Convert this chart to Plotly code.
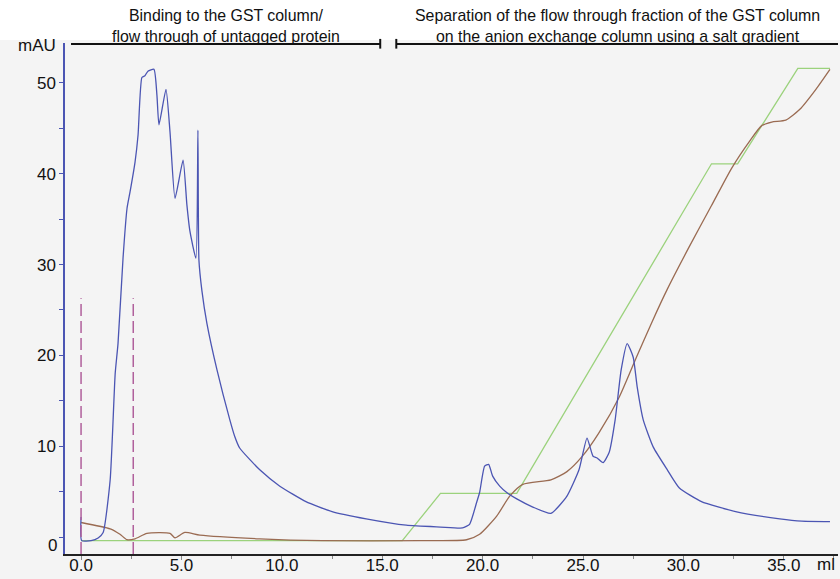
import plotly.graph_objects as go

# ---- data ----
uv_x = [0.0, 0.03, 0.5, 0.85, 1.1, 1.45, 1.7, 1.84, 2.09, 2.29, 2.44, 2.69, 2.84, 3.03, 3.18, 3.33, 3.63,
        3.78, 3.88, 4.23, 4.43, 4.68, 5.08, 5.27, 5.42, 5.72, 5.82, 5.87, 6.02, 6.27, 6.77, 7.41, 7.65, 7.9,
        8.9, 9.9, 11.2, 12.5, 14.2, 16.2, 17.9, 19.0, 19.35, 19.7, 19.85, 20.1, 20.3, 20.5, 20.85, 21.2,
        21.7, 22.5, 23.4, 24.2, 24.8, 25.2, 25.5, 25.7, 26.0, 26.3, 26.6, 26.9, 27.2, 27.5, 27.7, 28.0,
        28.5, 29.2, 29.8, 30.9, 32.6, 34.8, 35.9, 37.3]
uv_y = [2.2, -0.4, -0.4, -0.1, 0.5, 6.3, 18.0, 21.3, 30.7, 36.2, 38.0, 41.3, 44.3, 50.6, 50.8, 51.3, 51.5,
        48.6, 45.4, 49.3, 44.6, 37.3, 41.5, 36.6, 33.7, 30.7, 44.8, 30.5, 27.1, 23.5, 18.4, 12.9, 11.1, 9.8,
        7.4, 5.6, 3.9, 2.8, 2.0, 1.3, 1.1, 1.0, 1.4, 3.8, 4.9, 7.8, 8.0, 6.7, 5.6, 4.9,
        4.2, 3.3, 2.6, 4.5, 7.4, 10.9, 8.9, 8.7, 8.2, 9.3, 12.9, 18.4, 21.3, 19.8, 16.5, 12.9,
        9.9, 7.4, 5.4, 3.9, 2.8, 2.0, 1.75, 1.7]

cond_x = [0.0, 1.45, 1.94, 2.29, 2.69, 3.28, 4.43, 4.68, 5.17, 5.92, 8.9, 12.0, 16.9, 19.2, 19.85, 20.7,
          21.35, 22.0, 23.4, 24.2, 24.97, 25.8, 26.8, 27.66, 28.46, 29.2, 30.3, 31.4, 32.4, 33.3, 33.9,
          34.4, 35.1, 35.8, 36.6, 37.3]
cond_y = [1.6, 0.9, 0.3, -0.3, -0.2, 0.4, 0.4, -0.1, 0.5, 0.2, -0.2, -0.4, -0.4, -0.3, 0.3, 2.3,
          4.5, 5.8, 6.3, 7.2, 8.9, 11.5, 15.4, 19.8, 23.8, 27.3, 32.0, 36.5, 40.6, 43.6, 45.3,
          45.7, 45.9, 47.1, 49.3, 51.5]

grad_x = [0.0, 16.0, 17.9, 21.7, 31.4, 32.7, 35.7, 37.3]
grad_y = [-0.4, -0.4, 4.8, 4.8, 41.1, 41.1, 51.6, 51.6]

marker_x = [0.0, 2.6]          # injection / fraction marks
marker_top = 26.3

x_ticks = [0, 5, 10, 15, 20, 25, 30, 35]
x_tick_text = ["0.0", "5.0", "10.0", "15.0", "20.0", "25.0", "30.0", "35.0"]
y_ticks = [0, 10, 20, 30, 40, 50]
y_tick_text = ["", "10", "20", "30", "40", "50"]   # "0" is drawn slightly lower, as in the original

phase1_text = "Binding to the GST column/<br>flow through of untagged protein"
phase2_text = "Separation of the flow through fraction of the GST column<br>on the anion exchange column using a salt gradient"
phase1_span = [-0.5, 14.9]
phase2_span = [15.7, 37.7]

FONT = "Liberation Sans, Arial, sans-serif"
BLUE = "#4b55b3"
BROWN = "#9a6b52"
GREEN = "#9bd27c"
DASH = "#b0609c"
BG = "#f4f4f4"

Y_RANGE = [-1.87, 54.4]

fig = go.Figure()
fig.add_trace(go.Scatter(x=grad_x, y=grad_y, mode="lines",
                         line=dict(color=GREEN, width=1.3), hoverinfo="skip"))
fig.add_trace(go.Scatter(x=cond_x, y=cond_y, mode="lines",
                         line=dict(color=BROWN, width=1.3, shape="spline", smoothing=0.6), hoverinfo="skip"))
fig.add_trace(go.Scatter(x=uv_x, y=uv_y, mode="lines",
                         line=dict(color=BLUE, width=1.3, shape="spline", smoothing=0.5), hoverinfo="skip"))

shapes = []
for mx in marker_x:
    shapes.append(dict(type="line", xref="x", yref="y", x0=mx, x1=mx, y0=Y_RANGE[0], y1=marker_top,
                       line=dict(color=DASH, width=1.5, dash="12px,5px")))
# white band above the plot
shapes.append(dict(type="rect", xref="paper", yref="paper", x0=-0.2, x1=1.1, y0=1.006, y1=1.2,
                   fillcolor="white", line=dict(width=0), layer="below"))
# phase brackets
LINE_Y = 0.998
for (a, b), caps in ((phase1_span, [phase1_span[1]]), (phase2_span, [phase2_span[0]])):
    shapes.append(dict(type="line", xref="x", yref="paper", x0=a, x1=b, y0=LINE_Y, y1=LINE_Y,
                       line=dict(color="#111", width=2)))
    for c in caps:
        shapes.append(dict(type="line", xref="x", yref="paper", x0=c, x1=c, y0=0.989, y1=1.008,
                           line=dict(color="#111", width=2)))

annotations = [
    dict(text=phase1_text, x=7.2, y=1.033, xref="x", yref="paper", showarrow=False,
         font=dict(family=FONT, size=15.9, color="#111"), yanchor="middle"),
    dict(text=phase2_text, x=26.7, y=1.033, xref="x", yref="paper", showarrow=False,
         font=dict(family=FONT, size=15.9, color="#111"), yanchor="middle"),
    dict(text="mAU", x=-0.036, y=0.996, xref="paper", yref="paper", showarrow=False,
         font=dict(family=FONT, size=17, color="#111"), xanchor="center", yanchor="middle"),
    dict(text="ml", x=0.984, y=-0.0215, xref="paper", yref="paper", showarrow=False,
         font=dict(family=FONT, size=17, color="#111"), xanchor="center", yanchor="middle"),
    dict(text="0", x=-0.0168, y=0.0176, xref="paper", yref="paper", showarrow=False,
         font=dict(family=FONT, size=17, color="#111"), xanchor="center", yanchor="middle"),
]

fig.update_layout(
    width=840, height=579,
    margin=dict(l=65, r=2, t=43, b=25),
    paper_bgcolor=BG, plot_bgcolor=BG,
    showlegend=False,
    font=dict(family=FONT, size=17, color="#111"),
    shapes=shapes, annotations=annotations,
    xaxis=dict(range=[-0.8, 37.7], tickvals=x_ticks, ticktext=x_tick_text, automargin=False,
               showgrid=False, zeroline=False, showline=True, linecolor="#222", linewidth=1.5,
               ticks="outside", ticklen=4, tickcolor="#888", tickwidth=1, ticklabelstandoff=-9,
               minor=dict(dtick=2.5, tick0=0, ticks="outside", ticklen=3, tickcolor="#888"),
               tickfont=dict(family=FONT, size=17, color="#111")),
    yaxis=dict(range=Y_RANGE, tickvals=y_ticks, ticktext=y_tick_text, automargin=False,
               showgrid=False, zeroline=False, showline=True, linecolor=BLUE, linewidth=1.5,
               ticks="outside", ticklen=4, tickcolor=BLUE, tickwidth=1,
               minor=dict(dtick=5, tick0=0, ticks="outside", ticklen=4, tickcolor=BLUE),
               tickfont=dict(family=FONT, size=17, color="#111")),
)

fig.write_html("out.html", config={"displayModeBar": False},
               post_script="document.body.style.margin='0';document.body.style.overflow='hidden';")
